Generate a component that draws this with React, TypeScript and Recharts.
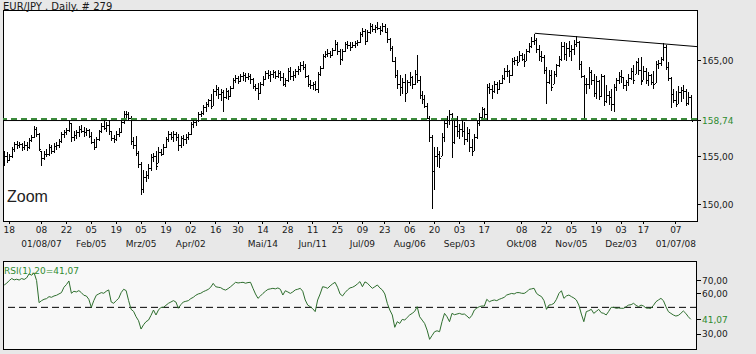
import React from "react";
import { ComposedChart, Bar, Line, XAxis, YAxis, ReferenceLine } from "recharts";

// ---- data ----
const closes = [
  155.0,154.6,155.0,155.8,156.3,156.2,156.3,156.0,156.2,156.0,
  156.7,157.0,157.9,157.3,155.8,154.8,155.3,155.2,156.0,155.6,
  156.1,156.2,156.6,157.3,157.5,157.8,158.5,157.0,157.2,157.5,
  157.9,157.7,157.5,157.8,157.1,156.5,156.0,156.8,157.6,158.2,
  158.0,158.3,157.6,156.9,156.8,157.3,157.5,158.6,159.4,159.4,
  159.0,156.6,156.2,155.4,154.2,151.6,152.9,153.1,153.8,154.9,
  155.0,154.0,155.5,155.3,156.0,156.8,157.3,157.0,157.3,157.0,
  156.2,156.9,156.8,157.0,157.3,158.4,158.6,158.8,159.4,159.5,
  160.1,160.5,160.9,160.3,161.8,162.0,161.5,161.7,161.2,161.8,
  161.3,162.1,163.0,163.2,162.9,163.4,163.5,163.3,163.4,163.1,
  162.3,162.1,161.6,162.6,163.1,163.7,163.5,163.6,163.8,163.4,
  163.7,163.3,162.6,163.0,163.9,163.4,163.5,163.9,164.1,164.5,
  164.3,163.4,162.6,162.4,162.5,162.0,163.6,164.2,165.5,165.7,
  165.8,165.6,166.1,166.7,166.0,165.2,166.0,166.7,166.6,166.4,
  166.6,166.8,166.9,167.8,168.1,167.0,168.0,168.6,168.3,168.5,
  168.4,168.2,168.6,168.0,167.2,166.3,165.0,163.5,162.6,162.2,
  162.8,161.6,162.8,163.3,162.5,163.6,163.0,161.4,161.0,160.3,
  159.0,157.0,153.5,155.0,155.2,154.8,157.0,158.5,158.8,159.4,
  156.5,158.2,157.6,157.9,157.6,156.8,157.4,156.0,155.6,157.0,
  158.5,159.1,159.9,159.4,162.2,162.0,161.8,162.5,162.0,162.7,
  163.2,163.9,163.9,163.5,165.0,165.1,164.8,165.6,165.2,164.9,
  166.0,166.5,167.0,167.1,166.2,165.5,165.4,164.0,162.8,163.5,
  162.2,163.6,164.5,165.2,166.5,165.7,166.3,166.0,166.2,166.7,
  166.9,164.6,163.4,162.5,162.6,163.8,163.0,161.6,162.9,161.3,
  163.4,160.8,161.4,161.2,160.5,162.2,163.0,163.4,163.3,162.4,
  162.8,163.2,163.9,163.0,164.8,164.0,162.9,163.9,163.0,163.5,
  162.8,162.5,164.6,164.7,165.2,166.4,164.3,163.2,161.5,160.9,
  160.5,161.7,161.9,161.8,160.6,161.2,158.74,
];

const highs = [
  155.6,155.5,155.3,156.0,156.5,156.6,156.5,156.4,156.6,156.5,
  156.9,157.2,158.2,158.1,157.4,155.6,155.6,155.8,156.3,156.2,
  156.4,156.5,156.8,157.5,157.8,158.0,158.7,158.5,157.6,157.8,
  158.2,158.3,158.1,158.0,157.9,157.5,156.8,157.0,157.8,158.5,
  158.7,158.6,158.8,157.7,157.2,157.6,158.0,158.9,159.7,159.7,
  159.6,159.2,157.0,157.1,155.6,154.4,153.6,153.5,154.2,155.2,
  155.4,155.6,156.0,155.8,156.3,157.0,157.6,157.5,157.6,157.5,
  157.3,157.1,157.2,157.3,157.5,158.6,159.0,159.0,159.6,159.7,
  160.4,160.7,161.0,161.5,162.0,162.4,162.2,162.0,161.9,162.1,
  161.9,162.3,163.2,163.5,163.4,163.6,163.8,163.7,163.7,163.6,
  163.2,162.6,162.7,162.8,163.4,163.9,164.0,163.9,164.0,163.9,
  164.0,163.9,163.7,163.2,164.2,164.3,163.9,164.1,164.4,164.8,
  165.0,164.6,163.5,163.0,162.8,162.9,163.8,164.4,165.7,166.0,
  166.2,166.0,166.3,167.1,166.9,166.2,166.2,166.9,167.0,166.9,
  166.9,167.0,167.1,168.0,168.4,168.3,168.2,168.9,168.8,168.7,
  169.0,168.6,168.9,168.8,168.4,167.4,166.5,165.4,164.0,163.5,
  163.2,163.6,163.0,163.8,163.4,164.0,165.6,163.4,161.8,161.4,
  160.6,159.2,157.2,156.0,156.0,155.6,157.4,158.9,159.2,159.8,
  159.5,158.7,159.2,158.4,159.0,158.6,158.1,157.9,156.8,157.3,
  158.7,159.5,160.2,160.0,162.6,162.7,162.4,162.9,162.8,163.0,
  163.5,164.2,164.5,164.0,165.3,165.4,165.5,166.0,165.8,165.7,
  166.2,166.8,167.5,167.8,167.3,166.6,166.0,165.6,164.3,164.0,
  164.0,163.9,164.6,165.5,166.9,166.9,166.8,167.0,166.6,167.1,
  167.6,167.0,165.0,163.5,163.2,164.3,164.0,163.6,163.4,163.0,
  163.6,163.5,162.4,161.8,162.0,162.5,163.2,163.8,164.0,163.3,
  163.0,163.6,164.2,164.5,165.0,165.3,165.4,164.4,164.2,163.8,
  163.6,163.9,164.9,165.1,165.4,166.8,166.6,164.8,163.3,162.0,
  161.8,162.3,162.2,162.4,162.0,161.7,161.4,
];

const lows = [
  154.0,154.3,154.5,154.8,155.5,155.8,155.9,155.6,155.7,155.6,
  155.8,156.5,156.9,157.0,155.6,154.0,154.6,154.9,155.0,155.3,
  155.4,155.7,155.9,156.4,156.9,157.2,157.5,156.5,156.6,156.8,
  157.0,157.4,157.0,157.1,156.9,156.3,155.7,155.9,156.6,157.4,
  157.8,157.5,157.2,156.6,156.4,156.6,157.0,157.4,158.4,159.0,
  158.7,156.2,155.8,155.0,153.8,151.0,151.2,152.3,152.6,153.5,
  154.4,153.6,154.3,155.0,155.1,155.9,156.5,156.7,156.5,156.6,
  155.6,155.9,156.1,156.3,156.7,157.2,158.0,158.2,158.6,159.1,
  159.3,159.6,160.2,159.9,160.3,161.3,161.0,160.8,159.6,161.0,
  160.9,161.2,162.0,162.7,162.6,162.8,162.9,162.8,163.0,162.6,
  162.0,161.8,160.9,161.5,162.3,163.0,163.1,162.8,163.2,163.1,
  163.2,162.9,162.3,162.2,162.8,163.0,162.9,163.2,163.5,163.8,
  164.0,163.2,162.2,162.0,161.9,161.8,161.6,163.4,164.1,165.3,
  165.4,165.3,165.5,166.0,165.6,164.5,165.0,165.9,166.2,166.0,
  166.3,166.3,166.5,166.8,167.5,166.6,166.9,167.8,168.0,167.9,
  168.2,167.7,168.0,167.9,166.8,166.0,164.8,163.2,162.0,161.3,
  161.5,160.7,161.6,162.3,162.0,162.4,162.7,161.0,160.5,160.0,
  158.9,156.5,149.5,151.5,153.9,153.8,155.0,156.5,158.0,158.3,
  154.8,156.3,157.0,156.8,157.0,156.2,156.5,155.5,155.0,155.6,
  156.8,158.2,158.9,158.9,158.8,161.5,161.0,161.6,161.5,161.9,
  162.5,163.0,163.3,162.7,163.4,164.5,164.4,164.8,164.9,164.3,
  164.9,165.8,166.3,166.6,165.8,165.0,164.8,163.6,160.5,162.5,
  161.8,162.5,163.3,164.3,165.0,165.1,165.0,165.4,165.0,165.6,
  166.4,164.0,163.2,158.8,161.5,162.0,162.4,161.2,161.0,160.9,
  161.2,160.3,160.6,160.4,159.7,159.6,161.8,162.6,162.7,162.0,
  161.8,162.3,163.0,162.5,163.6,163.5,162.4,163.0,162.6,162.3,
  162.4,162.0,162.7,164.1,164.4,165.0,164.0,162.9,160.0,160.6,
  160.2,160.5,160.7,161.0,160.3,160.4,158.7,
];

const rsiValues = [
  66.7,68,70,71.5,70.5,71,70.4,71.5,70.8,72,
  75,74,75.8,70,53.5,55,56,56.5,58,57.5,
  58.5,59,60,61,65,67,69.7,60.5,62,61.5,
  62.5,61,59,58.5,56,50,55,59,60,61,
  60.5,62,63,54,53,55,56.7,61,63.5,62.5,
  55,48.5,47,43,40,33.8,37,39.3,40.5,44,
  48,44.3,48,50,50,51.5,53,54,55,54,
  49.3,52,54,54.5,55,56.5,57.5,59,60,60.5,
  61.7,62.5,63.4,65,67.9,65.4,65,64.7,63.5,62.9,
  64,65.4,67,68.7,68.2,68.5,68.7,68,68.5,68.7,
  64.2,60,56.7,58.5,60.4,62,63.4,63.8,64.2,63.8,
  64.5,63.5,59.2,62.4,61.5,60.4,61.5,63,63.5,64.2,
  62,55.5,51.7,50.5,49,46.8,55.5,60,65.4,65,
  64.2,66,67.5,68.7,65,60,58.5,61,63,64.5,
  65,66,67.5,69.2,65.4,69,68,66,64.2,65.4,
  66.7,64.5,63,60,53,48,44.3,35.1,39.3,38,
  41,40.5,42.5,44.3,45.5,47,50.5,43,40.5,38,
  33,26.1,29,31.8,32.5,31.8,39.3,45.5,43,39.3,
  45.5,44.5,45,45.5,44.8,45,43.5,41.8,44,48,
  49.5,50.5,51,51,56,54.2,55,55.5,55,56,
  56.7,57.5,59.2,59.8,60.4,60,61,61,60.5,60.4,
  61.5,63.4,63.8,64.2,60.4,59,58,55,48.5,51.7,
  52,53,56,60.4,62.4,56.7,58.5,59.2,58,57,
  55.5,51.7,45,39.3,46.8,47.5,48.5,45.5,47,48.5,
  46,45.5,44.3,47,50,50,49.3,49.5,49.3,49.3,
  50.5,51.7,52,53,51.5,50.5,51.7,51,49.5,49.3,
  49.3,51.5,54.2,55.5,56.7,55,50.5,46.8,45.5,44.3,
  43.5,44,45.5,47.3,45.5,43,41.07,
];

const tickIdx = [2,15,25,35,45,55,65,75,85,94,104,114,124,134,144,153,163,173,183,193,208,218,228,238,248,257,270];
const dayLabels = ["18","08","22","05","19","05","19","02","16","30","14","28","11","25","09","23","06","20","03","17","08","22","05","19","03","17","07"];
const monthLabels = ["","01/08/07","","Feb/05","","Mrz/05","","Apr/02","","","Mai/14","","Jun/11","","Jul/09","","Aug/06","","Sep/03","","Okt/08","","Nov/05","","Dez/03","","01/07/08"];

const priceTicks = [150, 155, 158.74, 165];
const priceTickLabels = ["150,00", "155,00", "158,74", "165,00"];
const lastPrice = 158.74;
const rsiTicks = [30, 41.07, 60, 70];
const rsiTickLabels = ["30,00", "41,07", "60,00", "70,00"];
const rsiLast = 41.07;
const trendStart = { x: 213.3, y: 167.84 };
const trendEnd = { x: 278.5, y: 166.45 };

const bars = closes.map((c, i) => {
  const prev = i === 0 ? 155.2 : closes[i - 1];
  const open = Math.min(highs[i], Math.max(lows[i], prev));
  return { i, range: [lows[i], highs[i]], open, high: highs[i], low: lows[i], close: c };
});
const rsiData = rsiValues.map((v, i) => ({ i, rsi: v }));

const FONT = "DejaVu Sans";
const GREEN_TXT = "#2f8a2f";
const TXT = "#1a1a1a";

const OhlcShape = (props: any) => {
  const { x, y, width, height, payload } = props;
  if (x == null || y == null) return null;
  const top = Math.min(y, y + height);
  const h = Math.abs(height);
  const span = payload.high - payload.low || 1;
  const oy = Math.round(top + ((payload.high - payload.open) / span) * h) + 0.5;
  const cy = Math.round(top + ((payload.high - payload.close) / span) * h) + 0.5;
  const cx = Math.round(x + width / 2) + 0.5;
  return (
    <g stroke="#000" strokeWidth={1} shapeRendering="crispEdges">
      <line x1={cx} x2={cx} y1={top} y2={top + Math.max(h, 1)} />
      <line x1={cx - 1.5} x2={cx - 0.5} y1={oy} y2={oy} />
      <line x1={cx + 0.5} x2={cx + 1.5} y1={cy} y2={cy} />
    </g>
  );
};

const XTick = (props: any) => {
  const { x, payload } = props;
  const k = tickIdx.indexOf(payload.value);
  if (k < 0) return null;
  return (
    <g>
      <line x1={x} x2={x} y1={221} y2={224} stroke="#000" shapeRendering="crispEdges" />
      <text x={x} y={233.3} textAnchor="middle" fontFamily={FONT} fontSize={9} fill={TXT}>{dayLabels[k]}</text>
      {monthLabels[k] ? (
        <text x={x} y={247.3} textAnchor="middle" fontFamily={FONT} fontSize={9} fill={TXT}>{monthLabels[k]}</text>
      ) : null}
    </g>
  );
};

const makeYTick = (ticks: number[], labels: string[], last: number) => (props: any) => {
  const { y, payload } = props;
  const k = ticks.indexOf(payload.value);
  if (k < 0) return null;
  const isLast = payload.value === last;
  return (
    <g>
      <line x1={697} x2={701} y1={y} y2={y} stroke="#000" shapeRendering="crispEdges" />
      <text x={702} y={y + 3.3} fontFamily={FONT} fontSize={9} fill={isLast ? GREEN_TXT : TXT}>{labels[k]}</text>
    </g>
  );
};
const PriceTick = makeYTick(priceTicks, priceTickLabels, lastPrice);
const RsiTick = makeYTick(rsiTicks, rsiTickLabels, rsiLast);

export default function App() {
  return (
    <div style={{ position: "absolute", left: 0, top: 0, width: 756, height: 354, background: "#e8e8e8", overflow: "hidden" }}>
      <div style={{ position: "absolute", left: 3, top: 10, width: 695, height: 212, boxSizing: "border-box", border: "1px solid #000", background: "#fff" }} />
      <div style={{ position: "absolute", left: 3, top: 261, width: 694, height: 89, boxSizing: "border-box", border: "1px solid #000", background: "#f8f8f8" }} />
      <div style={{ position: "absolute", left: 0, top: 0 }}>
        <ComposedChart width={756} height={250} data={bars} margin={{ top: 10, right: 0, bottom: 0, left: 3 }}>
          <XAxis type="number" dataKey="i" domain={[-0.5, 278.5]} ticks={tickIdx} interval={0} height={29}
            axisLine={false} tickLine={false} tick={<XTick />} allowDataOverflow />
          <YAxis orientation="right" type="number" domain={[148.26, 170.27]} ticks={priceTicks} interval={0} width={59}
            axisLine={false} tickLine={false} tick={<PriceTick />} allowDataOverflow />
          <ReferenceLine y={lastPrice} stroke="#000" strokeWidth={1} />
          <ReferenceLine y={158.9} stroke="#3d8b3d" strokeWidth={2} strokeDasharray="6 4" />
          <Bar dataKey="range" barSize={3} shape={<OhlcShape />} isAnimationActive={false} />
          <ReferenceLine segment={[trendStart, trendEnd]} stroke="#000" strokeWidth={1} />
        </ComposedChart>
      </div>
      <div style={{ position: "absolute", left: 0, top: 250 }}>
        <ComposedChart width={756} height={104} data={rsiData} margin={{ top: 11, right: 0, bottom: 5, left: 3 }}>
          <XAxis type="number" dataKey="i" domain={[-0.5, 278.5]} hide allowDataOverflow />
          <YAxis orientation="right" type="number" domain={[18.9, 84.6]} ticks={rsiTicks} interval={0} width={59}
            axisLine={false} tickLine={false} tick={<RsiTick />} allowDataOverflow />
          <ReferenceLine y={50} stroke="#000" strokeWidth={1} strokeDasharray="7 4" />
          <Line dataKey="rsi" stroke="#2e6e2e" strokeWidth={1} dot={false} isAnimationActive={false} />
        </ComposedChart>
      </div>
      <svg width={756} height={354} style={{ position: "absolute", left: 0, top: 0, pointerEvents: "none" }}>
        <text x={3} y={10} fontFamily={FONT} fontSize={10} fill={TXT}>EUR/JPY . Daily. # 279</text>
        <text x={7} y={202.3} fontFamily="Liberation Sans" fontSize={16} fill="#222">Zoom</text>
        <text x={4} y={274} fontFamily={FONT} fontSize={9} fill={GREEN_TXT}>RSI(1),20=41,07</text>
      </svg>
    </div>
  );
}
